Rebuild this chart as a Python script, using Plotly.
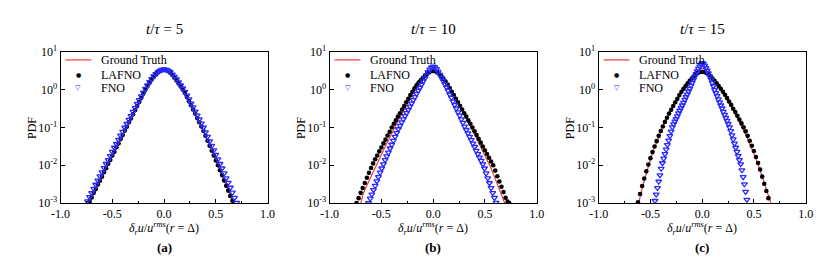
import plotly.graph_objects as go

W, H = 831, 266
FONT = "Liberation Serif"

# ---------------- data (PDF values stored as log10) ----------------
# Panel (a): t/tau = 5
x_a = [-0.76,-0.74,-0.72,-0.70,-0.68,-0.66,-0.64,-0.62,-0.60,-0.58,
       -0.56,-0.54,-0.52,-0.50,-0.48,-0.46,-0.44,-0.42,-0.40,-0.38,
       -0.36,-0.34,-0.32,-0.30,-0.28,-0.26,-0.24,-0.22,-0.20,-0.18,
       -0.16,-0.14,-0.12,-0.10,-0.08,-0.06,-0.04,-0.02,0.00,0.02,
       0.04,0.06,0.08,0.10,0.12,0.14,0.16,0.18,0.20,0.22,
       0.24,0.26,0.28,0.30,0.32,0.34,0.36,0.38,0.40,0.42,
       0.44,0.46,0.48,0.50,0.52,0.54,0.56,0.58,0.60,0.62,
       0.64,0.66,0.68,0.70]
gt_a = [-3.19,-3.08,-2.97,-2.86,-2.75,-2.64,-2.53,-2.42,-2.31,-2.20,
        -2.09,-1.98,-1.87,-1.76,-1.65,-1.54,-1.43,-1.32,-1.21,-1.10,
        -0.99,-0.88,-0.77,-0.66,-0.55,-0.44,-0.33,-0.22,-0.11,0.00,
        0.10,0.19,0.27,0.34,0.41,0.46,0.50,0.53,0.54,0.53,
        0.50,0.45,0.39,0.32,0.25,0.17,0.09,0.02,-0.07,-0.18,
        -0.29,-0.41,-0.52,-0.63,-0.74,-0.85,-0.97,-1.08,-1.21,-1.34,
        -1.47,-1.60,-1.73,-1.86,-1.99,-2.12,-2.25,-2.39,-2.53,-2.66,
        -2.80,-2.93,-3.07,-3.20]
lafno_a = [None,-3.06,-2.95,-2.85,-2.73,-2.63,-2.51,-2.41,-2.30,-2.18,
           -2.08,-1.96,-1.86,-1.74,-1.64,-1.52,-1.42,-1.30,-1.20,-1.08,
           -0.98,-0.86,-0.76,-0.65,-0.54,-0.43,-0.32,-0.21,-0.10,0.01,
           0.10,0.19,0.27,0.34,0.40,0.46,0.50,0.53,0.54,0.53,
           0.50,0.45,0.39,0.32,0.25,0.17,0.09,0.01,-0.08,-0.19,
           -0.30,-0.41,-0.52,-0.63,-0.75,-0.86,-0.97,-1.09,-1.22,-1.35,
           -1.48,-1.61,-1.74,-1.87,-2.00,-2.13,-2.26,-2.40,-2.54,-2.67,
           -2.81,-2.94,-3.06,None]
fno_x_a = x_a
fno_a = [-3.05,-2.95,-2.84,-2.73,-2.62,-2.51,-2.40,-2.29,-2.18,-2.07,
         -1.96,-1.86,-1.75,-1.64,-1.53,-1.43,-1.32,-1.21,-1.11,-1.00,
         -0.90,-0.79,-0.69,-0.58,-0.48,-0.37,-0.27,-0.17,-0.07,0.03,
         0.12,0.21,0.29,0.36,0.42,0.47,0.51,0.53,0.54,0.53,
         0.51,0.47,0.41,0.35,0.28,0.20,0.12,0.04,-0.05,-0.15,
         -0.25,-0.36,-0.46,-0.57,-0.68,-0.78,-0.89,-1.00,-1.12,-1.24,
         -1.36,-1.48,-1.60,-1.72,-1.84,-1.96,-2.08,-2.21,-2.34,-2.46,
         -2.59,-2.72,-2.86,-2.99]

# Panel (b): t/tau = 10
x_b = [-0.76,-0.74,-0.72,-0.70,-0.68,-0.66,-0.64,-0.62,-0.60,-0.58,
       -0.56,-0.54,-0.52,-0.50,-0.48,-0.46,-0.44,-0.42,-0.40,-0.38,
       -0.36,-0.34,-0.32,-0.30,-0.28,-0.26,-0.24,-0.22,-0.20,-0.18,
       -0.16,-0.14,-0.12,-0.10,-0.08,-0.06,-0.04,-0.02,0.00,0.02,
       0.04,0.06,0.08,0.10,0.12,0.14,0.16,0.18,0.20,0.22,
       0.24,0.26,0.28,0.30,0.32,0.34,0.36,0.38,0.40,0.42,
       0.44,0.46,0.48,0.50,0.52,0.54,0.56,0.58,0.60,0.62,
       0.64,0.66,0.68,0.70,0.72,0.74,0.76]
gt_b = [None,None,-3.25,-3.00,-2.79,-2.65,-2.53,-2.41,-2.30,-2.19,
        -2.08,-1.96,-1.84,-1.73,-1.61,-1.49,-1.38,-1.26,-1.15,-1.03,
        -0.92,-0.82,-0.72,-0.62,-0.51,-0.41,-0.31,-0.21,-0.10,0.00,
        0.09,0.17,0.24,0.31,0.38,0.44,0.49,0.52,0.53,0.52,
        0.48,0.42,0.36,0.28,0.20,0.12,0.04,-0.05,-0.15,-0.25,
        -0.35,-0.45,-0.55,-0.65,-0.75,-0.85,-0.95,-1.06,-1.17,-1.28,
        -1.40,-1.51,-1.62,-1.73,-1.85,-1.96,-2.08,-2.22,-2.37,-2.52,
        -2.67,-2.80,-2.93,-3.07,-3.20,None,None]
lafno_b = [None,-3.00,-2.87,-2.73,-2.60,-2.47,-2.33,-2.20,-2.07,-1.95,
           -1.84,-1.74,-1.63,-1.53,-1.42,-1.32,-1.21,-1.11,-1.00,-0.90,
           -0.81,-0.71,-0.62,-0.52,-0.43,-0.33,-0.24,-0.14,-0.05,0.04,
           0.12,0.19,0.25,0.31,0.37,0.42,0.46,0.49,0.50,0.49,
           0.46,0.41,0.36,0.29,0.22,0.14,0.05,-0.05,-0.14,-0.24,
           -0.33,-0.43,-0.52,-0.62,-0.71,-0.81,-0.90,-1.00,-1.10,-1.20,
           -1.30,-1.40,-1.50,-1.60,-1.70,-1.80,-1.90,-2.00,-2.14,-2.29,
           -2.43,-2.57,-2.71,-2.86,-2.96,-3.02,None]
fno_x_b = [-0.640,-0.624,-0.608,-0.592,-0.576,-0.560,-0.544,-0.528,-0.512,-0.496,
           -0.480,-0.464,-0.448,-0.432,-0.416,-0.400,-0.384,-0.368,-0.352,-0.336,
           -0.320,-0.304,-0.288,-0.272,-0.256,-0.240,-0.224,-0.208,-0.192,-0.176,
           -0.160,-0.144,-0.128,-0.112,-0.096,-0.080,-0.064,-0.048,-0.032,-0.016,
           0.000,0.016,0.032,0.048,0.064,0.080,0.096,0.112,0.128,0.144,
           0.160,0.176,0.192,0.208,0.224,0.240,0.256,0.272,0.288,0.304,
           0.320,0.336,0.352,0.368,0.384,0.400,0.416,0.432,0.448,0.464,
           0.480,0.496,0.512,0.528,0.544,0.560,0.576,0.592,0.608,0.624,
           0.640]
fno_b = [-3.11,-3.00,-2.88,-2.77,-2.65,-2.54,-2.42,-2.31,-2.19,-2.08,
         -1.97,-1.86,-1.76,-1.66,-1.55,-1.45,-1.35,-1.24,-1.14,-1.04,
         -0.95,-0.86,-0.78,-0.69,-0.61,-0.53,-0.44,-0.36,-0.27,-0.19,
         -0.10,-0.02,0.06,0.14,0.23,0.31,0.39,0.47,0.54,0.59,
         0.62,0.60,0.55,0.48,0.40,0.32,0.24,0.15,0.07,-0.02,
         -0.12,-0.21,-0.31,-0.40,-0.49,-0.59,-0.68,-0.78,-0.87,-0.97,
         -1.06,-1.15,-1.24,-1.33,-1.42,-1.51,-1.61,-1.70,-1.79,-1.88,
         -1.97,-2.08,-2.21,-2.34,-2.47,-2.60,-2.73,-2.86,-2.99,-3.12,
         None]

# Panel (c): t/tau = 15
x_c = [-0.64,-0.62,-0.60,-0.58,-0.56,-0.54,-0.52,-0.50,-0.48,-0.46,
       -0.44,-0.42,-0.40,-0.38,-0.36,-0.34,-0.32,-0.30,-0.28,-0.26,
       -0.24,-0.22,-0.20,-0.18,-0.16,-0.14,-0.12,-0.10,-0.08,-0.06,
       -0.04,-0.02,0.00,0.02,0.04,0.06,0.08,0.10,0.12,0.14,
       0.16,0.18,0.20,0.22,0.24,0.26,0.28,0.30,0.32,0.34,
       0.36,0.38,0.40,0.42,0.44,0.46,0.48,0.50,0.52,0.54,
       0.56,0.58,0.60,0.62,0.64,0.66,0.68]
gt_c = [-3.40,-3.08,-2.84,-2.61,-2.40,-2.20,-2.01,-1.84,-1.67,-1.52,
        -1.37,-1.23,-1.10,-0.97,-0.85,-0.74,-0.63,-0.53,-0.43,-0.33,
        -0.24,-0.15,-0.06,0.02,0.10,0.18,0.26,0.33,0.40,0.46,
        0.51,0.55,0.57,0.55,0.51,0.46,0.40,0.33,0.26,0.18,
        0.10,0.02,-0.07,-0.16,-0.25,-0.35,-0.45,-0.55,-0.65,-0.75,
        -0.86,-0.97,-1.08,-1.19,-1.31,-1.43,-1.56,-1.69,-1.83,-1.98,
        -2.13,-2.29,-2.46,-2.63,-2.80,-2.97,-3.14]
lafno_c = [None,-2.98,-2.76,-2.55,-2.35,-2.16,-1.98,-1.81,-1.65,-1.50,
           -1.36,-1.22,-1.09,-0.97,-0.85,-0.74,-0.63,-0.53,-0.43,-0.33,
           -0.24,-0.14,-0.05,0.03,0.10,0.17,0.24,0.30,0.36,0.41,
           0.45,0.47,0.48,0.47,0.45,0.41,0.36,0.30,0.24,0.17,
           0.10,0.03,-0.05,-0.13,-0.22,-0.31,-0.40,-0.50,-0.59,-0.69,
           -0.79,-0.89,-0.99,-1.10,-1.22,-1.35,-1.48,-1.62,-1.78,-1.94,
           -2.11,-2.30,-2.49,-2.68,-2.87,-3.06,None]
fno_x_c = [-0.468,-0.456,-0.444,-0.432,-0.420,-0.408,-0.396,-0.384,-0.372,-0.360,
           -0.348,-0.336,-0.324,-0.312,-0.300,-0.288,-0.276,-0.264,-0.252,-0.240,
           -0.228,-0.216,-0.204,-0.192,-0.180,-0.168,-0.156,-0.144,-0.132,-0.120,
           -0.108,-0.096,-0.084,-0.072,-0.060,-0.048,-0.036,-0.024,-0.012,0.000,
           0.012,0.024,0.036,0.048,0.060,0.072,0.084,0.096,0.108,0.120,
           0.132,0.144,0.156,0.168,0.180,0.192,0.204,0.216,0.228,0.240,
           0.252,0.264,0.276,0.288,0.300,0.312,0.324,0.336,0.348,0.360,
           0.372,0.384,0.396,0.408,0.420,0.432,0.444]
fno_c = [-3.11,-2.94,-2.77,-2.60,-2.43,-2.26,-2.09,-1.94,-1.82,-1.70,
         -1.58,-1.46,-1.34,-1.22,-1.10,-0.99,-0.91,-0.84,-0.77,-0.70,
         -0.62,-0.55,-0.48,-0.41,-0.34,-0.26,-0.19,-0.12,-0.04,0.03,
         0.11,0.19,0.27,0.35,0.42,0.49,0.56,0.62,0.67,0.71,
         0.69,0.64,0.58,0.51,0.44,0.36,0.28,0.19,0.10,0.00,
         -0.08,-0.16,-0.25,-0.33,-0.41,-0.49,-0.58,-0.66,-0.74,-0.82,
         -0.90,-0.99,-1.09,-1.20,-1.31,-1.42,-1.53,-1.64,-1.75,-1.86,
         -1.97,-2.13,-2.31,-2.50,-2.70,-2.91,-3.12]

titles = ["<i>t</i>/<i>τ</i> = 5", "<i>t</i>/<i>τ</i> = 10", "<i>t</i>/<i>τ</i> = 15"]
labels = ["<b>(a)</b>", "<b>(b)</b>", "<b>(c)</b>"]
legend_names = ["Ground Truth", "LAFNO", "FNO"]
x_ticks = [-1.0, -0.5, 0.0, 0.5, 1.0]
x_ticktext = ["-1.0", "-0.5", "0.0", "0.5", "1.0"]
y_ticks = [1e-3, 1e-2, 1e-1, 1e0, 1e1]
y_ticktext = ["10<sup>-3</sup>", "10<sup>-2</sup>", "10<sup>-1</sup>", "10<sup>0</sup>", "10<sup>1</sup>"]

panels = [
    (x_a, gt_a, lafno_a, fno_x_a, fno_a),
    (x_b, gt_b, lafno_b, fno_x_b, fno_b),
    (x_c, gt_c, lafno_c, fno_x_c, fno_c),
]

RED = "#f23b3b"
BLUE = "#2a2aff"


def to_pdf(vals):
    return [None if v is None else 10 ** v for v in vals]


# ---------------- layout geometry (pixels) ----------------
lefts = [51.7, 326.7, 601.7]
pw = 211.6
top_px, bot_px = 46.7, 206.7

fig = go.Figure()
annotations = []
shapes = []


def ann(text, xp, yp, size, family=FONT, color="black", xanchor="center", angle=0):
    return dict(text=text, x=xp / W, y=1 - yp / H, xref="paper", yref="paper",
                xanchor=xanchor, yanchor="middle", showarrow=False, textangle=angle,
                font=dict(family=family, size=size, color=color))


for i, (xs, gt, la, fx, fn) in enumerate(panels):
    n = "" if i == 0 else str(i + 1)
    xa, ya = "x" + n, "y" + n
    fig.add_trace(go.Scatter(x=xs, y=to_pdf(gt), mode="lines", name=legend_names[0],
                             line=dict(color=RED, width=1.2), xaxis=xa, yaxis=ya,
                             showlegend=False))
    fig.add_trace(go.Scatter(x=xs, y=to_pdf(la), mode="markers", name=legend_names[1],
                             marker=dict(symbol="circle", size=4.6, color="black"),
                             xaxis=xa, yaxis=ya, showlegend=False))
    fig.add_trace(go.Scatter(x=fx, y=to_pdf(fn), mode="markers", name=legend_names[2],
                             marker=dict(symbol="triangle-down-open", size=5.2, color=BLUE,
                                         line=dict(width=1.3, color=BLUE)),
                             xaxis=xa, yaxis=ya, showlegend=False))

    L = lefts[i]
    dom = [L / W, (L + pw) / W]
    axis_common = dict(showline=True, linecolor="black", linewidth=1, mirror=True,
                       ticks="inside", tickcolor="black", showgrid=False, zeroline=False,
                       tickfont=dict(family=FONT, size=12, color="black"))
    fig.update_layout(**{
        ("xaxis" + n): dict(domain=dom, anchor=ya, range=[-1, 1], tickmode="array",
                            tickvals=x_ticks, ticktext=x_ticktext, ticklen=4,
                            minor=dict(ticks="inside", ticklen=2, dtick=0.25, tick0=0,
                                       tickcolor="black", showgrid=False),
                            **axis_common),
        ("yaxis" + n): dict(domain=[1 - bot_px / H, 1 - top_px / H], anchor=xa, type="log",
                            range=[-3, 1], tickmode="array", tickvals=y_ticks,
                            ticktext=y_ticktext, ticklen=4, **axis_common),
    })

    cx = L + pw / 2
    annotations += [
        ann(titles[i], cx, 22, 15),
        ann("PDF", L - 29, 127, 12, angle=-90),
        ann("<i>δ<sub>r</sub>u</i>/<i>u<sup>rms</sup></i>(<i>r</i> = Δ)", cx, 234, 12),
        ann(labels[i], cx, 254, 13),
    ]
    # legend (inside top-left)
    rows_y = [55, 70.5, 85]
    shapes.append(dict(type="line", xref="paper", yref="paper",
                       x0=(L + 5) / W, x1=(L + 31.5) / W,
                       y0=1 - rows_y[0] / H, y1=1 - rows_y[0] / H,
                       line=dict(color=RED, width=1.2)))
    annotations += [
        ann("●", L + 18.3, rows_y[1], 6, family="DejaVu Sans"),
        ann("▽", L + 18.3, rows_y[2], 7, family="DejaVu Sans", color=BLUE),
    ]
    for k, name in enumerate(legend_names):
        annotations.append(ann(name, L + 39.5, rows_y[k], 12, xanchor="left"))

fig.update_layout(width=W, height=H, margin=dict(l=0, r=0, t=0, b=0),
                  paper_bgcolor="white", plot_bgcolor="white",
                  font=dict(family=FONT, color="black"),
                  showlegend=False, annotations=annotations, shapes=shapes)

fig.write_html("out.html", config={"displayModeBar": False},
               post_script="document.body.style.margin='0';")
